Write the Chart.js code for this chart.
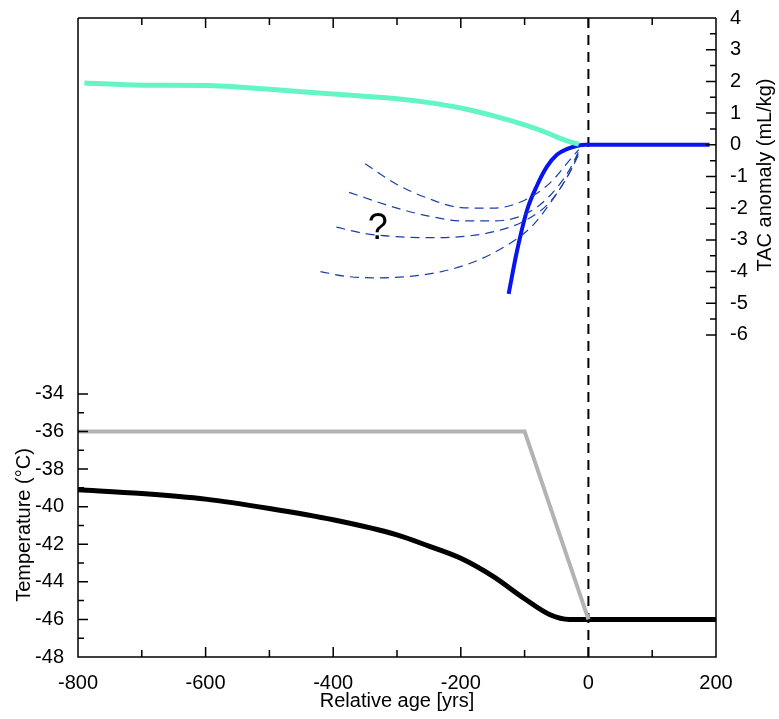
<!DOCTYPE html>
<html><head><meta charset="utf-8">
<script src="https://cdn.jsdelivr.net/npm/chart.js@4"></script>
<style>html,body{margin:0;background:#fff}#wrap{width:779px;height:719px}</style>
</head><body><div id="wrap"><canvas id="c"></canvas></div>
<script>
// TAC anomaly series (right axis)
const tacObsX = [-790,-700,-600,-500,-400,-300,-250,-200,-150,-100,-70,-50,-30,-15];
const tacObsY = [1.95,1.88,1.87,1.75,1.6,1.45,1.33,1.16,0.92,0.63,0.42,0.25,0.1,0.02];
const tacModelX = [-125,-112,-96,-80,-65,-49,-33,-17,-5,190];
const tacModelY = [-4.7,-3.36,-2.05,-1.26,-0.69,-0.31,-0.13,-0.03,0,0];
const guess1X = [-350,-300,-250,-200,-150,-100,-60,-30,-15];
const guess1Y = [-0.6,-1.25,-1.7,-1.98,-2.0,-1.75,-1.2,-0.5,-0.15];
const guess2X = [-375,-300,-250,-200,-150,-100,-60,-30,-15];
const guess2Y = [-1.5,-2.0,-2.25,-2.4,-2.4,-2.2,-1.6,-0.8,-0.2];
const guess3X = [-395,-350,-300,-250,-200,-150,-100,-60,-30,-15];
const guess3Y = [-2.6,-2.8,-2.9,-2.93,-2.9,-2.75,-2.4,-1.8,-0.9,-0.25];
const guess4X = [-420,-380,-330,-280,-230,-180,-130,-90,-55,-30,-15];
const guess4Y = [-4.0,-4.15,-4.2,-4.15,-4.0,-3.7,-3.2,-2.6,-1.7,-0.9,-0.3];
// temperature series (left axis)
const tempStepX = [-800,-100,0];
const tempStepY = [-36,-36,-46];
const tempSmoothX = [-800,-700,-600,-500,-400,-300,-250,-200,-150,-100,-60,-30,0,200];
const tempSmoothY = [-39.1,-39.3,-39.6,-40.1,-40.7,-41.5,-42.1,-42.75,-43.7,-44.9,-45.75,-46,-46,-46];
const tempTicks = [-48,-46,-44,-42,-40,-38,-36,-34];
const tacTicks = [-6,-5,-4,-3,-2,-1,0,1,2,3,4];
const ageTicks = [-800,-600,-400,-200,0,200];

const pts = (xs, ys) => xs.map((x, i) => ({x, y: ys[i]}));
const FONT = 'Arial, "Liberation Sans", sans-serif';

const frame = {
  id: 'frame',
  afterDatasetsDraw(chart) {
    const {ctx, chartArea: a, scales} = chart;
    const xs = scales.x, yl = scales.yT, yr = scales.yC;
    ctx.save();
    ctx.strokeStyle = '#000'; ctx.lineWidth = 1.5;
    ctx.beginPath();
    ctx.moveTo(a.left, a.top); ctx.lineTo(a.right, a.top);
    ctx.moveTo(a.left, a.top); ctx.lineTo(a.left, a.bottom); ctx.lineTo(a.right, a.bottom); ctx.lineTo(a.right, a.top);
    for (let v = -800; v <= 200; v += 100) {
      const p = xs.getPixelForValue(v), l = v % 200 === 0 ? 10 : 7;
      ctx.moveTo(p, a.bottom); ctx.lineTo(p, a.bottom - l);
      ctx.moveTo(p, a.top); ctx.lineTo(p, a.top + l);
    }
    for (let v = -48; v <= -34; v += 1) {
      const p = yl.getPixelForValue(v);
      ctx.moveTo(a.left, p); ctx.lineTo(a.left + (v % 2 === 0 ? 10 : 6), p);
    }
    for (let v = -6; v <= 4; v += 0.5) {
      const p = yr.getPixelForValue(v);
      ctx.moveTo(a.right, p); ctx.lineTo(a.right - (Number.isInteger(v) ? 10 : 6), p);
    }
    ctx.stroke();
    ctx.fillStyle = '#000';
    ctx.font = '36px ' + FONT; ctx.textAlign = 'center'; ctx.textBaseline = 'middle';
    ctx.fillText('?', xs.getPixelForValue(-330), yr.getPixelForValue(-2.65));
    ctx.font = '20px ' + FONT;
    ctx.fillText('Relative age [yrs]', (a.left + a.right) / 2, 701);
    ctx.translate(24, 525); ctx.rotate(-Math.PI / 2);
    ctx.fillText('Temperature (°C)', 0, 0);
    ctx.restore(); ctx.save();
    ctx.fillStyle = '#000'; ctx.font = '20px ' + FONT; ctx.textAlign = 'center'; ctx.textBaseline = 'middle';
    ctx.translate(765, 175); ctx.rotate(-Math.PI / 2);
    ctx.fillText('TAC anomaly (mL/kg)', 0, 0);
    ctx.restore();
  }
};

const line = (data, axis, color, width, dash, smooth = true) => ({
  data, yAxisID: axis, borderColor: color, borderWidth: width, borderDash: dash || [],
  pointRadius: 0, tension: smooth ? 0.4 : 0, cubicInterpolationMode: smooth ? 'monotone' : 'default', fill: false
});

new Chart(document.getElementById('c'), {
  type: 'line',
  data: { datasets: [
    line(pts(tempStepX, tempStepY), 'yT', '#b3b3b3', 4, null, false),
    line(pts(tempSmoothX, tempSmoothY), 'yT', '#000', 5),
    line(pts(tacObsX, tacObsY), 'yC', '#64f5c6', 5),
    line(pts(guess1X, guess1Y), 'yC', '#1a3fa8', 1.2, [9, 6]),
    line(pts(guess2X, guess2Y), 'yC', '#1a3fa8', 1.2, [9, 6]),
    line(pts(guess3X, guess3Y), 'yC', '#1a3fa8', 1.2, [9, 6]),
    line(pts(guess4X, guess4Y), 'yC', '#1a3fa8', 1.2, [9, 6]),
    line(pts(tacModelX, tacModelY), 'yC', '#0a14f0', 4),
    line([{x:0,y:4},{x:0,y:-16.16}], 'yC', '#000', 2, [10, 7], false)
  ]},
  options: {
    responsive: true, maintainAspectRatio: false, animation: false,
    layout: { padding: { top: 16, left: 0, right: 0, bottom: 0 } },
    plugins: { legend: { display: false }, tooltip: { enabled: false } },
    scales: {
      x: { type: 'linear', min: -800, max: 200,
        grid: { display: false }, border: { display: false },
        afterFit: s => { s.height = 62; },
        afterBuildTicks: s => { s.ticks = ageTicks.map(v => ({value: v})); },
        ticks: { color: '#000', font: { size: 20, family: FONT }, padding: 6, maxRotation: 0 } },
      yT: { position: 'left', min: -48, max: -14,
        grid: { display: false }, border: { display: false },
        afterFit: s => { s.width = 78; },
        afterBuildTicks: s => { s.ticks = tempTicks.map(v => ({value: v})); },
        ticks: { color: '#000', font: { size: 20, family: FONT }, padding: 6 } },
      yC: { position: 'right', min: -16.16, max: 4,
        grid: { display: false }, border: { display: false },
        afterFit: s => { s.width = 63; },
        afterBuildTicks: s => { s.ticks = tacTicks.map(v => ({value: v})); },
        ticks: { color: '#000', font: { size: 20, family: FONT }, padding: 6 } }
    }
  },
  plugins: [frame]
});
</script></body></html>
